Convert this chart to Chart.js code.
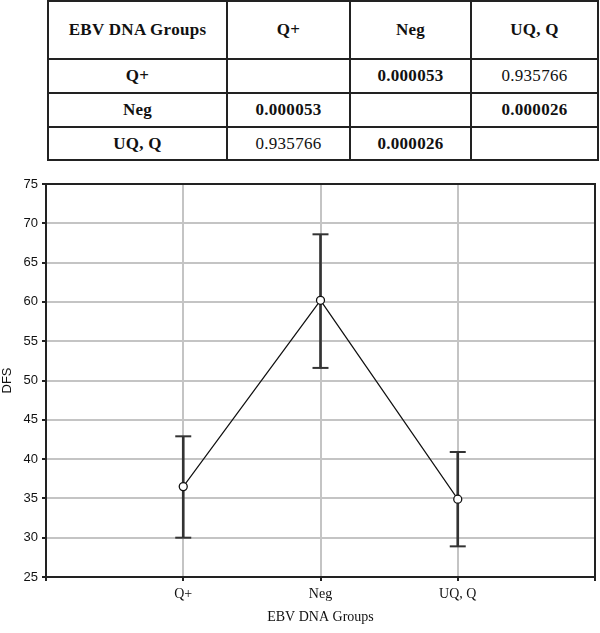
<!DOCTYPE html>
<html>
<head>
<meta charset="utf-8">
<script src="https://cdn.jsdelivr.net/npm/chart.js@4"></script>
<style>
  body { margin: 0; background: #fff; width: 600px; height: 633px; position: relative; overflow: hidden; }
  #tabela {
    position: absolute; left: 47px; top: 0px;
    border-collapse: collapse;
    font-family: "Liberation Serif", "Times New Roman", serif;
    font-size: 17px; letter-spacing: 0.3px; color: #111;
  }
  #tabela td { border: 2px solid #222; text-align: center; vertical-align: middle; padding: 0; }
  #tabela .b { font-weight: bold; }
  #grafico { position: absolute; left: 0; top: 160px; }
</style>
</head>
<body>

<table id="tabela">
  <tr style="height:58px">
    <td class="b" style="width:177px">EBV DNA Groups</td>
    <td class="b" style="width:121px">Q+</td>
    <td class="b" style="width:119px">Neg</td>
    <td class="b" style="width:125px">UQ, Q</td>
  </tr>
  <tr style="height:34px">
    <td class="b">Q+</td><td></td><td class="b">0.000053</td><td>0.935766</td>
  </tr>
  <tr style="height:34px">
    <td class="b">Neg</td><td class="b">0.000053</td><td></td><td class="b">0.000026</td>
  </tr>
  <tr style="height:33px">
    <td class="b">UQ, Q</td><td>0.935766</td><td class="b">0.000026</td><td></td>
  </tr>
</table>

<canvas id="grafico" width="600" height="473"></canvas>

<script>
// dados
const grupos = ['Q+', 'Neg', 'UQ, Q'];
const medias = [36.5, 60.2, 34.9];
const limiteSup = [42.9, 68.6, 40.9];
const limiteInf = [30.0, 51.6, 28.9];
const ticksY = [25, 30, 35, 40, 45, 50, 55, 60, 65, 70, 75];

// rótulos com espaço vazio nas pontas
const rotulos = [''].concat(grupos, ['']);
function comPontas(arr) { return [null].concat(arr, [null]); }

const barras = comPontas(grupos.map((g, i) => [limiteInf[i], limiteSup[i]]));

const moldura = {
  id: 'moldura',
  afterDraw(chart) {
    const a = chart.chartArea;
    const c = chart.ctx;
    c.save();
    c.strokeStyle = '#222';
    c.lineWidth = 2;
    c.strokeRect(a.left, a.top, a.right - a.left, a.bottom - a.top);
    c.restore();
  }
};

const ctx = document.getElementById('grafico').getContext('2d');

const grafico = new Chart(ctx, {
  data: {
    labels: rotulos,
    datasets: [
      {
        type: 'line',
        data: comPontas(medias),
        borderColor: '#111',
        borderWidth: 1.2,
        pointRadius: 4,
        pointBackgroundColor: '#fff',
        pointBorderColor: '#111',
        pointBorderWidth: 1.3,
        order: 0
      },
      {
        type: 'line',
        data: comPontas(limiteSup),
        showLine: false,
        pointStyle: 'line',
        pointRadius: 8,
        pointBorderWidth: 2,
        pointBorderColor: '#333',
        order: 1
      },
      {
        type: 'line',
        data: comPontas(limiteInf),
        showLine: false,
        pointStyle: 'line',
        pointRadius: 8,
        pointBorderWidth: 2,
        pointBorderColor: '#333',
        order: 1
      },
      {
        type: 'bar',
        data: barras,
        backgroundColor: '#333',
        borderWidth: 0,
        barThickness: 2,
        order: 2
      }
    ]
  },
  options: {
    responsive: false,
    animation: false,
    layout: { autoPadding: false, padding: { top: 24, right: 2, left: 0, bottom: 0 } },
    plugins: { legend: { display: false }, tooltip: { enabled: false } },
    scales: {
      x: {
        offset: false,
        grid: { offset: false, color: '#c4c4c4', lineWidth: 2, tickColor: '#222', tickLength: 4 },
        border: { display: false },
        ticks: {
          padding: 5,
          color: '#111',
          font: { family: 'Liberation Serif', size: 14 },
          maxRotation: 0,
          autoSkip: false
        },
        title: {
          display: true,
          text: 'EBV DNA Groups',
          color: '#111',
          font: { family: 'Liberation Serif', size: 14 },
          padding: { top: 4, bottom: 7 }
        },
        afterFit(scale) { scale.height = 56; }
      },
      y: {
        min: 25,
        max: 75,
        afterBuildTicks(scale) { scale.ticks = ticksY.map(v => ({ value: v })); },
        grid: { color: '#c4c4c4', lineWidth: 2, tickColor: '#222', tickLength: 4 },
        border: { display: false },
        ticks: {
          padding: 4,
          color: '#111',
          font: { family: 'Liberation Sans', size: 13 }
        },
        title: {
          display: true,
          text: 'DFS',
          color: '#111',
          font: { family: 'Liberation Sans', size: 13 },
          padding: 0
        },
        afterFit(scale) { scale.width = 46; }
      }
    }
  },
  plugins: [moldura]
});
</script>
</body>
</html>
